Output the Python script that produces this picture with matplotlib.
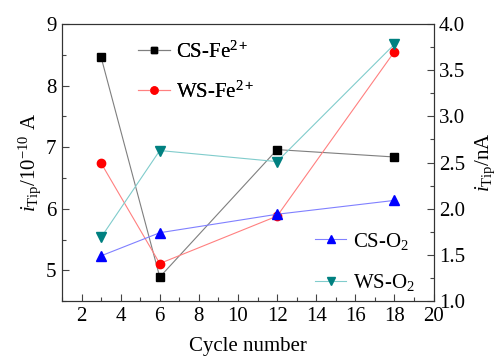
import numpy as np
import matplotlib.pyplot as plt

plt.rcParams['font.family'] = 'Liberation Serif'
plt.rcParams['mathtext.fontset'] = 'custom'
plt.rcParams['mathtext.rm'] = 'Liberation Serif'
plt.rcParams['mathtext.it'] = 'Liberation Serif:italic'
plt.rcParams['mathtext.bf'] = 'Liberation Serif:bold'

cycles = [3, 6, 12, 18]
cs_fe = [8.46, 4.89, 6.96, 6.84]
ws_fe = [6.74, 5.11, 5.88, 8.55]
cs_o2 = [1.49, 1.74, 1.94, 2.09]
ws_o2 = [1.69, 2.63, 2.51, 3.78]

fig = plt.figure(figsize=(5, 3.58), dpi=100)
ax1 = fig.add_axes([0.124, 0.159, 0.743, 0.774])
ax2 = ax1.twinx()

l1, = ax1.plot(cycles, cs_fe, color='#7f7f7f', lw=0.8, marker='s', ms=5.5,
               mfc='black', mec='black', label='CS-Fe$^{2+}$')
l2, = ax1.plot(cycles, ws_fe, color='#ff8080', lw=0.8, marker='o', ms=6,
               mfc='red', mec='red', label='WS-Fe$^{2+}$')
l3, = ax2.plot(cycles, cs_o2, color='#8080ff', lw=0.8, marker='^', ms=6.5,
               mfc='blue', mec='blue', label='CS-O$_2$')
l4, = ax2.plot(cycles, ws_o2, color='#80cccc', lw=0.8, marker='v', ms=6.5,
               mfc='#008080', mec='#008080', label='WS-O$_2$')

ax1.set_xlim(1, 20)
ax1.set_ylim(4.5, 9)
ax2.set_ylim(1.0, 4.0)
ax1.set_xticks(np.arange(2, 21, 2))
ax1.set_xticks(np.arange(1, 20, 1), minor=True)
ax1.set_yticks([5, 6, 7, 8, 9])
ax1.set_yticks(np.arange(4.5, 9.01, 0.5), minor=True)
ax2.set_yticks(np.arange(1.0, 4.01, 0.5))
ax2.set_yticks(np.arange(1.0, 4.01, 0.25), minor=True)
ax2.set_yticklabels(['%.1f' % v for v in np.arange(1.0, 4.01, 0.5)])

for ax in (ax1, ax2):
    ax.tick_params(direction='in', labelsize=15, length=5, width=0.8, color='#444444', pad=4)
    ax.tick_params(which='minor', direction='in', length=3, width=0.8, color='#444444')
    for s in ax.spines.values():
        s.set_color('#333333')
ax1.tick_params(top=False, which='both')
ax2.tick_params(top=False, which='both')

ax1.set_xlabel('Cycle number', fontsize=15, labelpad=8)
ax1.set_ylabel('$i_{\\rm Tip}$/10$^{-10}$ A', fontsize=15, labelpad=2)
ax2.set_ylabel('$i_{\\rm Tip}$/nA', fontsize=15, labelpad=6)

leg1 = ax1.legend(handles=[l1, l2], loc='upper left', bbox_to_anchor=(0.155, 1.005),
                  frameon=False, fontsize=15, handlelength=1.5, handletextpad=0.3,
                  labelspacing=0.9, markerscale=0.85)
ax1.add_artist(leg1)
ax2.legend(handles=[l3, l4], loc='lower right', bbox_to_anchor=(1.0, -0.04),
           frameon=False, fontsize=15, handlelength=1.5, handletextpad=0.3,
           labelspacing=1.0, markerscale=0.85)

plt.savefig('out.png', dpi=100)
